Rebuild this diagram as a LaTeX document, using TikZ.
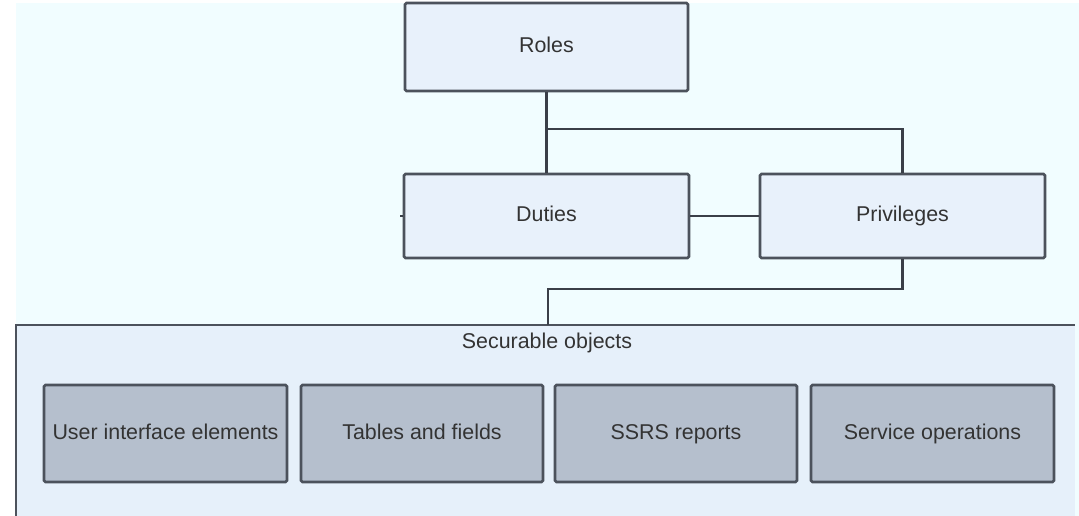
\documentclass[tikz,border=0pt]{standalone}
\usepackage{fontspec}
\setmainfont{Liberation Sans}
\definecolor{pagebg}{HTML}{F1FDFF}
\definecolor{boxfill}{HTML}{E8F1FB}
\definecolor{groupfill}{HTML}{E6F0FA}
\definecolor{itemfill}{HTML}{B5BFCD}
\definecolor{edge}{HTML}{4C525C}
\definecolor{wire}{HTML}{3A3F48}
\definecolor{label}{HTML}{333333}
\tikzset{
  caption/.style={inner sep=0pt, text=label, font=\fontsize{21.4}{24}\selectfont,
    text height=15.4pt, text depth=4.2pt},
  block/.style={caption, draw=edge, line width=2.6pt, rounded corners=1.5pt, fill=boxfill},
  item/.style={block, fill=itemfill},
  wirestyle/.style={draw=wire, line width=2.2pt},
}
\begin{document}
\begin{tikzpicture}[x=1pt, y=-1pt]
  % canvas
  \fill[white] (0,0) rectangle (1079,516);
  \useasboundingbox (0,0) rectangle (1079,516);
  \fill[pagebg] (16,3) rectangle (1079,516);

  % securable objects container (open at the bottom and right)
  \fill[groupfill] (16,325) rectangle (1075,516);
  \draw[draw=edge, line width=2.4pt] (16,516) -- (16,325) -- (1075,325);
  \node[caption] (secure) at (547,343) {Securable objects};
  \coordinate (secureTop) at (548,325);

  % role hierarchy
  \node[block, minimum width=283pt, minimum height=88pt] (roles) at (546.5,47) {Roles};
  \node[block, minimum width=285pt, minimum height=84pt] (duties) at (546.5,216) {Duties};
  \node[block, minimum width=285pt, minimum height=84pt] (privs) at (902.5,216) {Privileges};

  % securable object kinds
  \node[item, minimum width=243pt, minimum height=97pt] (ui) at (165.5,433.5) {User interface elements};
  \node[item, minimum width=242pt, minimum height=97pt] (tables) at (422,433.5) {Tables and fields};
  \node[item, minimum width=242pt, minimum height=97pt] (ssrs) at (676,433.5) {SSRS reports};
  \node[item, minimum width=243pt, minimum height=97pt] (service) at (932.5,433.5) {Service operations};

  % connectors
  \coordinate (split) at (546.5,129);
  \coordinate (dutyStub) at (400,216);
  \coordinate (joinLow) at (902.5,289);
  \draw[wirestyle] (roles.south) -- (duties.north);
  \draw[wirestyle] (split) -| (privs.north);
  \draw[wirestyle] (duties.east) -- (privs.west);
  \draw[wirestyle] (duties.west) -- (dutyStub);
  \draw[wirestyle] (privs.south) -- (joinLow) -| (secureTop);
\end{tikzpicture}
\end{document}
